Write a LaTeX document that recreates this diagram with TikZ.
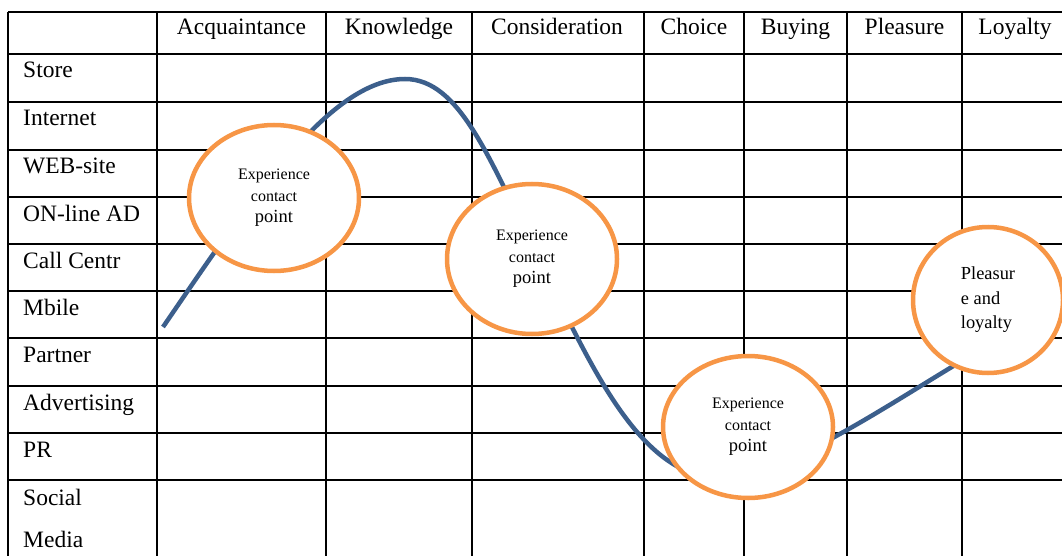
\documentclass[tikz,border=0pt]{standalone}
\usepackage{fontspec}
\setmainfont{Liberation Serif}
\usetikzlibrary{shapes.geometric}

\definecolor{touchorange}{HTML}{F79646}
\definecolor{pathblue}{HTML}{3C5F8C}

\begin{document}
\begin{tikzpicture}[x=1pt,y=-1pt]
	\tikzstyle{grid line}=[line width=2.2pt,black]
	\tikzstyle{stage}=[anchor=base,inner sep=0pt,font=\fontsize{23.5}{26}\selectfont]
	\tikzstyle{channel}=[anchor=base west,inner sep=0pt,font=\fontsize{23.5}{26}\selectfont]
	\tikzstyle{touch}=[ellipse,draw=touchorange,line width=4.5pt,fill=white,inner sep=0pt,
	                   align=center,font=\fontsize{16}{21.5}\selectfont]

	\useasboundingbox (0,0) rectangle (1062,556);

	% the table
	\foreach \y in {12,54,102,150,197,244,291,338,386,433,480}
		\draw[grid line] (8,\y) -- (1075,\y);
	\foreach \x in {8,157,326,472,644,744,847,962}
		\draw[grid line] (\x,12) -- (\x,570);

	% stages of the journey
	\foreach \x/\name/\txt in {241.5/acq/Acquaintance, 399/know/Knowledge,
	                          557/cons/Consideration, 694/choice/Choice,
	                          795.5/buy/Buying, 904.5/pleas/Pleasure, 1015/loyal/Loyalty}
		\node[stage] (\name) at (\x,35) {\txt};

	% channels
	\foreach \y/\name/\txt in {78/store/Store, 126/net/Internet, 174/web/WEB-site,
	                          221/ad/ON-line AD, 268/call/Call Centr, 315/mob/Mbile,
	                          362/partner/Partner, 410/adv/Advertising, 457/pr/PR,
	                          505/social/Social, 547/media/Media}
		\node[channel] (\name) at (23,\y) {\txt};

	% customer path: up to the peak, down through the trough, up again
	\draw[pathblue,line width=4.5pt]
		(163,327) .. controls (250,200) and (330,79) .. (405,79)
		          .. controls (460,79) and (490,160) .. (540,262)
		          .. controls (590,364) and (640,478) .. (720,478)
		          .. controls (780,478) and (880,410) .. (960,362);

	% contact points
	\node[touch,minimum width=170pt,minimum height=146pt] (cp1) at (274,198)
		{Experience\\contact\\{\fontsize{18.5}{21.5}\selectfont point}};
	\node[touch,minimum width=170pt,minimum height=150pt] (cp2) at (532,259)
		{Experience\\contact\\{\fontsize{18.5}{21.5}\selectfont point}};
	\node[touch,minimum width=170pt,minimum height=142pt] (cp3) at (748,427)
		{Experience\\contact\\{\fontsize{18.5}{21.5}\selectfont point}};
	\node[touch,minimum width=150pt,minimum height=146pt,align=left,
	      font=\fontsize{18.4}{24.5}\selectfont] (loyalty) at (988,300)
		{Pleasur\\e and\\loyalty};
\end{tikzpicture}
\end{document}
